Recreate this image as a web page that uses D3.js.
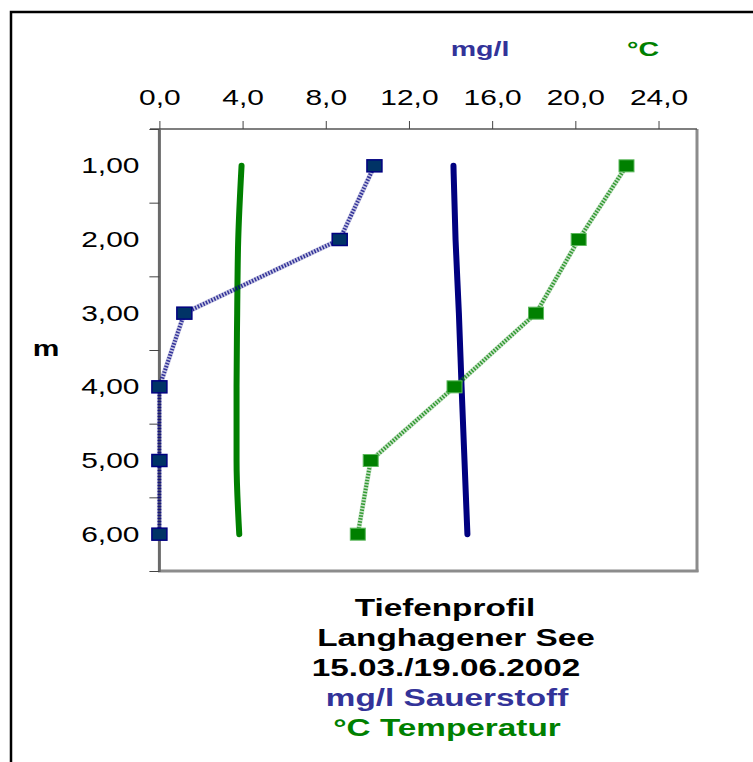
<!DOCTYPE html>
<html>
<head>
<meta charset="utf-8">
<script src="https://cdn.jsdelivr.net/npm/d3@7"></script>
<style>
  body { margin: 0; background: #fff; }
  svg { display: block; font-family: "Liberation Sans", Arial, sans-serif; }
</style>
</head>
<body>
<svg width="753" height="762"></svg>
<script>
// depth in m (y axis, reversed)
const depths = [1, 2, 3, 4, 5, 6];
// 15.03. profile (solid lines)
const oxyMarch = [14.14, 14.24, 14.40, 14.53, 14.67, 14.81];
const tempMarch = [3.95, 3.79, 3.74, 3.71, 3.71, 3.84];
// 19.06. profile (dotted lines with markers)
const oxyJune = [10.34, 8.67, 1.2, 0, 0, 0];
const tempJune = [22.46, 20.16, 18.11, 14.19, 10.16, 9.54];
// axis ticks
const xTicks = [0, 4, 8, 12, 16, 20, 24];
const yMinorTicks = [0.5, 1.5, 2.5, 3.5, 4.5, 5.5, 6.5];
const titleLines = ["Tiefenprofil", "Langhagener See", "15.03./19.06.2002", "mg/l Sauerstoff", "°C Temperatur"];

const blue = "#000080", blueText = "#333399", green = "#008000";
const SX = 1.36; // the original is stretched horizontally

const svg = d3.select("svg");
svg.append("rect").attr("width", 753).attr("height", 762).attr("fill", "#fff");

// outer frame (runs off right and bottom)
svg.append("rect")
  .attr("x", 11).attr("y", 12).attr("width", 800).attr("height", 800)
  .attr("fill", "none").attr("stroke", "#000").attr("stroke-width", 2.5);

const x = d3.scaleLinear().domain([0, 25.85]).range([159.4, 697]);
const y = d3.scaleLinear().domain([0.5, 6.5]).range([129, 571]);

// plot frame
svg.append("line").attr("x1", 697).attr("x2", 697).attr("y1", 129).attr("y2", 572)
  .attr("stroke", "#8c8c8c").attr("stroke-width", 3);
svg.append("line").attr("x1", 158).attr("x2", 698.5).attr("y1", 571).attr("y2", 571)
  .attr("stroke", "#8c8c8c").attr("stroke-width", 3);
svg.append("line").attr("x1", 150).attr("x2", 697).attr("y1", 129).attr("y2", 129)
  .attr("stroke", "#555").attr("stroke-width", 1.5);
svg.append("line").attr("x1", x(0)).attr("x2", x(0)).attr("y1", 129).attr("y2", 572)
  .attr("stroke", "#6a6a6a").attr("stroke-width", 3);

// top x axis
const xAxis = svg.append("g")
  .attr("transform", `translate(0,${y(0.5)})`)
  .call(d3.axisTop(x).tickValues(xTicks).tickSize(8).tickPadding(16)
    .tickFormat(d => d.toFixed(1).replace(".", ",")));
xAxis.select(".domain").remove();
xAxis.selectAll("line").attr("stroke", "#444");
xAxis.selectAll("text")
  .attr("font-size", 22).attr("fill", "#000")
  .attr("font-family", "Liberation Sans, Arial, sans-serif")
  .attr("transform", `scale(${SX},1)`);

// left y axis: ticks between categories, labels on depths
const yTickAxis = svg.append("g")
  .attr("transform", `translate(${x(0)},0)`)
  .call(d3.axisLeft(y).tickValues(yMinorTicks).tickSize(10).tickFormat(""));
yTickAxis.select(".domain").remove();
yTickAxis.selectAll("line").attr("stroke", "#444");

const yLabelAxis = svg.append("g")
  .attr("transform", `translate(${x(0)},0)`)
  .call(d3.axisLeft(y).tickValues(depths).tickSize(0).tickPadding(20 / SX)
    .tickFormat(d => d.toFixed(2).replace(".", ",")));
yLabelAxis.select(".domain").remove();
yLabelAxis.selectAll("text")
  .attr("font-size", 22).attr("fill", "#000")
  .attr("font-family", "Liberation Sans, Arial, sans-serif")
  .attr("transform", `scale(${SX},1)`);

function stretchedText(tx, ty, str, size, color, bold) {
  return svg.append("text")
    .attr("transform", `translate(${tx},${ty}) scale(${SX},1)`)
    .attr("text-anchor", "middle")
    .attr("font-size", size)
    .attr("font-weight", bold ? "bold" : "normal")
    .attr("fill", color)
    .text(str);
}

// unit labels
stretchedText(480, 56, "mg/l", 21, blueText, true);
stretchedText(643, 56, "°C", 21, green, true);
stretchedText(46, 356, "m", 22, "#000", true);

// lines
const smooth = d3.line()
  .x(d => x(d[0]))
  .y(d => y(d[1]))
  .curve(d3.curveMonotoneY);
const straight = d3.line()
  .x(d => x(d[0]))
  .y(d => y(d[1]));

const zip = vals => vals.map((v, i) => [v, depths[i]]);

svg.append("path").datum(zip(tempMarch))
  .attr("fill", "none").attr("stroke", green).attr("stroke-width", 6)
  .attr("stroke-linecap", "round").attr("d", smooth);
svg.append("path").datum(zip(oxyMarch))
  .attr("fill", "none").attr("stroke", blue).attr("stroke-width", 6)
  .attr("stroke-linecap", "round").attr("d", smooth);

[[oxyJune, blue], [tempJune, green]].forEach(([vals, col]) => {
  svg.append("path").datum(zip(vals))
    .attr("fill", "none").attr("stroke", col).attr("stroke-width", 5)
    .attr("stroke-opacity", 0.22).attr("d", straight);
  svg.append("path").datum(zip(vals))
    .attr("fill", "none").attr("stroke", col).attr("stroke-width", 4)
    .attr("stroke-dasharray", "1.5 1.5").attr("stroke-opacity", 0.75).attr("d", straight);
});

// markers
svg.selectAll(".mO").data(zip(oxyJune)).join("rect")
  .attr("x", d => x(d[0]) - 7.5).attr("y", d => y(d[1]) - 6)
  .attr("width", 15).attr("height", 12)
  .attr("fill", "#003366").attr("stroke", blue).attr("stroke-width", 1.5);
svg.selectAll(".mT").data(zip(tempJune)).join("rect")
  .attr("x", d => x(d[0]) - 7.5).attr("y", d => y(d[1]) - 6)
  .attr("width", 15).attr("height", 12)
  .attr("fill", green).attr("stroke", "#5cb85c").attr("stroke-width", 1);

// title block
const titleX = [445, 456, 446, 447, 447];
const titleCol = ["#000", "#000", "#000", blueText, green];
titleLines.forEach((t, i) => {
  stretchedText(titleX[i], 616 + i * 30, t, 24.5, titleCol[i], true);
});
</script>
</body>
</html>
